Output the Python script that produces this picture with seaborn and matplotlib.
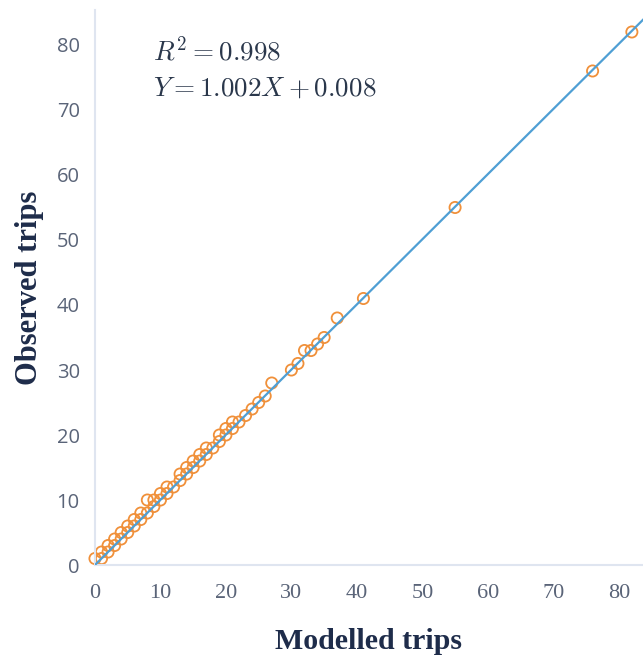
import numpy as np
import pandas as pd
import matplotlib
matplotlib.use("Agg")
import matplotlib.pyplot as plt
import seaborn as sns

modelled = [0, 1, 1, 2, 2, 3, 3, 4, 4, 5, 5, 6, 6, 7, 7, 8, 8, 9, 9, 10, 10, 11, 11, 12,
            13, 13, 14, 14, 15, 15, 16, 16, 17, 17, 18, 19, 19, 20, 20, 21, 21, 22, 23, 24,
            25, 26, 27, 30, 31, 32, 33, 34, 35, 37, 41, 55, 76, 82]
observed = [1, 1, 2, 2, 3, 3, 4, 4, 5, 5, 6, 6, 7, 7, 8, 8, 10, 9, 10, 10, 11, 11, 12, 12,
            13, 14, 14, 15, 15, 16, 16, 17, 17, 18, 18, 19, 20, 20, 21, 21, 22, 22, 23, 24,
            25, 26, 28, 30, 31, 33, 33, 34, 35, 38, 41, 55, 76, 82]
slope = 1.002
intercept = 0.008
fit_range = [0, 84]
x_ticks = [0, 10, 20, 30, 40, 50, 60, 70, 80]
y_ticks = [0, 10, 20, 30, 40, 50, 60, 70, 80]

sns.set_style("white")
plt.rcParams['mathtext.fontset'] = 'cm'

df = pd.DataFrame({"Modelled trips": modelled, "Observed trips": observed})
fit_df = pd.DataFrame({"x": fit_range,
                       "y": [slope * v + intercept for v in fit_range]})

fig = plt.figure(figsize=(6.43, 6.58), dpi=100)
ax = fig.add_axes([0.1477, 0.1413, 0.8523, 0.8437])

sns.scatterplot(data=df, x="Modelled trips", y="Observed trips", ax=ax,
                marker="o", s=65, facecolor="none", edgecolor="#f0903a",
                linewidth=1.3, clip_on=False, zorder=2)
sns.lineplot(data=fit_df, x="x", y="y", ax=ax, color="#4f9fd4",
             linewidth=1.6, zorder=3)

ax.set_xlim(0, 83.7)
ax.set_ylim(0, 85.4)
ax.set_xticks(x_ticks)
ax.set_yticks(y_ticks)
ax.set_xticklabels([str(t) for t in x_ticks], family="Liberation Serif",
                   fontsize=16, color="#5a6478")
ax.set_yticklabels([str(t) for t in y_ticks], family="Open Sans",
                   fontsize=14.5, color="#5a6478")
ax.tick_params(axis="both", length=0)
ax.tick_params(axis="x", pad=14)
ax.tick_params(axis="y", pad=11)

for s in ["top", "right"]:
    ax.spines[s].set_visible(False)
for s in ["left", "bottom"]:
    ax.spines[s].set_color("#dfe5f0")
    ax.spines[s].set_linewidth(1.5)

ax.set_xlabel("Modelled trips", family="Liberation Serif", fontweight="bold",
              fontsize=21.5, color="#1e2c4a", labelpad=18)
ax.set_ylabel("Observed trips", family="Liberation Serif", fontweight="bold",
              fontsize=22, color="#1e2c4a", labelpad=9)

ax.text(0.105, 0.925, r"$R^2 = 0.998$", transform=ax.transAxes,
        fontsize=19.5, color="#2a374b", va="center")
ax.text(0.105, 0.858, r"$Y = 1.002X + 0.008$", transform=ax.transAxes,
        fontsize=19.5, color="#2a374b", va="center")

fig.savefig("out.png", dpi=100)
